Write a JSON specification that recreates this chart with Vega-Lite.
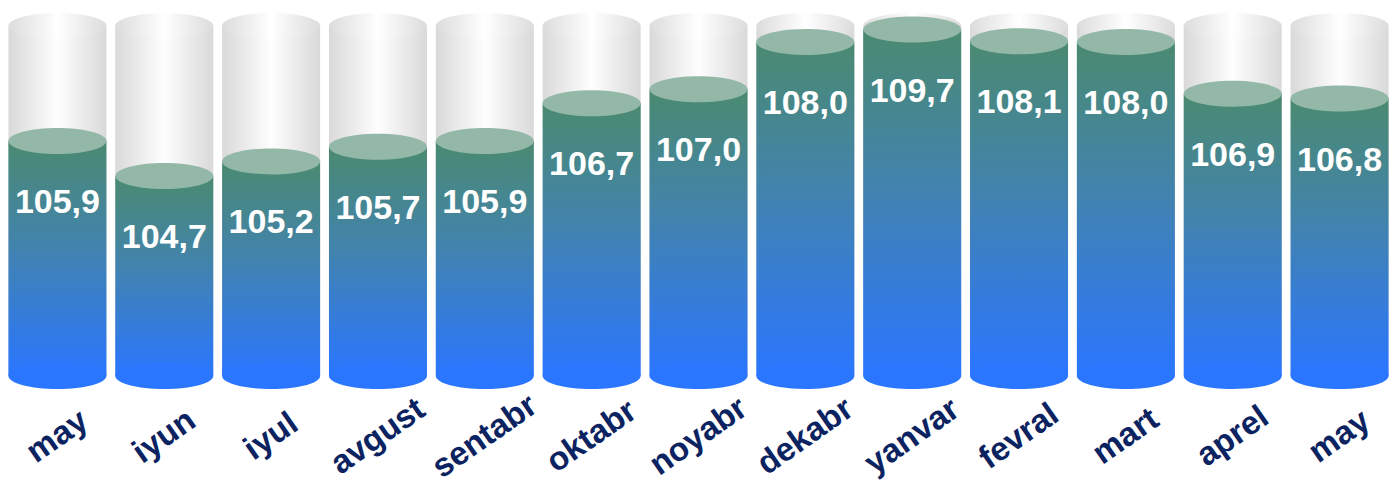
{
  "$schema": "https://vega.github.io/schema/vega-lite/v6.json",
  "width": 1389,
  "height": 380,
  "autosize": "none",
  "padding": {"left": 4, "top": 0, "right": 0, "bottom": 114},
  "background": "white",
  "config": {
    "view": {"stroke": null},
    "locale": {"number": {"decimal": ",", "thousands": ".", "grouping": [3], "currency": ["", ""]}}
  },
  "data": {
    "values": [
      {"id": "may|1", "v": 105.9},
      {"id": "iyun", "v": 104.7},
      {"id": "iyul", "v": 105.2},
      {"id": "avgust", "v": 105.7},
      {"id": "sentabr", "v": 105.9},
      {"id": "oktabr", "v": 106.7},
      {"id": "noyabr", "v": 107.0},
      {"id": "dekabr", "v": 108.0},
      {"id": "yanvar", "v": 109.7},
      {"id": "fevral", "v": 108.1},
      {"id": "mart", "v": 108.0},
      {"id": "aprel", "v": 106.9},
      {"id": "may|2", "v": 106.8}
    ]
  },
  "encoding": {
    "x": {
      "field": "id",
      "type": "nominal",
      "sort": null,
      "scale": {"type": "band", "paddingInner": 0, "paddingOuter": 0},
      "axis": {
        "title": null,
        "domain": false,
        "ticks": false,
        "tickSize": 0,
        "grid": false,
        "labelAngle": -35,
        "labelAlign": "center",
        "labelBaseline": "middle",
        "labelPadding": 56,
        "labelFont": "Liberation Sans",
        "labelFontWeight": "bold",
        "labelFontSize": 33,
        "labelColor": "#0b2360",
        "labelExpr": "split(datum.value, '|')[0]"
      }
    }
  },
  "layer": [
    {
      "mark": {
        "type": "bar",
        "width": 98,
        "fill": {
          "gradient": "linear", "x1": 0, "y1": 0, "x2": 1, "y2": 0,
          "stops": [
            {"offset": 0, "color": "#d9d9d9"},
            {"offset": 0.5, "color": "#fefefe"},
            {"offset": 1, "color": "#d9d9d9"}
          ]
        }
      },
      "encoding": {
        "y": {"datum": 110.2, "type": "quantitative", "axis": null,
              "scale": {"domain": [100, 104.7, 105.9, 108, 111], "range": [376, 176, 141, 42, 20], "zero": false, "nice": false}},
        "y2": {"datum": 100}
      }
    },
    {
      "mark": {
        "type": "point",
        "shape": "M-1,0A1,0.265,0,1,0,1,0A1,0.265,0,1,0,-1,0Z",
        "size": 9604,
        "filled": true,
        "strokeWidth": 0,
        "opacity": 1,
        "fill": {
          "gradient": "linear", "x1": 0, "y1": 0, "x2": 1, "y2": 0,
          "stops": [
            {"offset": 0, "color": "#dcdcdc"},
            {"offset": 0.5, "color": "#ffffff"},
            {"offset": 1, "color": "#dcdcdc"}
          ]
        }
      },
      "encoding": {
        "y": {"datum": 110.2, "type": "quantitative", "axis": null}
      }
    },
    {
      "mark": {
        "type": "bar",
        "width": 98,
        "fill": {
          "gradient": "linear", "x1": 0, "y1": 0, "x2": 0, "y2": 1,
          "stops": [
            {"offset": 0, "color": "#4a8a70"},
            {"offset": 0.45, "color": "#4283ae"},
            {"offset": 1, "color": "#2a76ff"}
          ]
        }
      },
      "encoding": {
        "y": {"field": "v", "type": "quantitative", "axis": null},
        "y2": {"datum": 100}
      }
    },
    {
      "mark": {
        "type": "point",
        "shape": "M-1,0A1,0.265,0,1,0,1,0A1,0.265,0,1,0,-1,0Z",
        "size": 9604,
        "filled": true,
        "strokeWidth": 0,
        "opacity": 1,
        "fill": "#2a76ff"
      },
      "encoding": {
        "y": {"datum": 100, "type": "quantitative", "axis": null}
      }
    },
    {
      "mark": {
        "type": "point",
        "shape": "M-1,0A1,0.265,0,1,0,1,0A1,0.265,0,1,0,-1,0Z",
        "size": 9604,
        "filled": true,
        "strokeWidth": 0,
        "opacity": 1,
        "fill": "#94b8a8"
      },
      "encoding": {
        "y": {"field": "v", "type": "quantitative", "axis": null}
      }
    },
    {
      "mark": {
        "type": "text",
        "dy": 62,
        "align": "center",
        "baseline": "middle",
        "font": "Liberation Sans",
        "fontWeight": "bold",
        "fontSize": 34,
        "fill": "white"
      },
      "encoding": {
        "y": {"field": "v", "type": "quantitative", "axis": null},
        "text": {"field": "v", "type": "quantitative", "format": ".1f"}
      }
    }
  ]
}
